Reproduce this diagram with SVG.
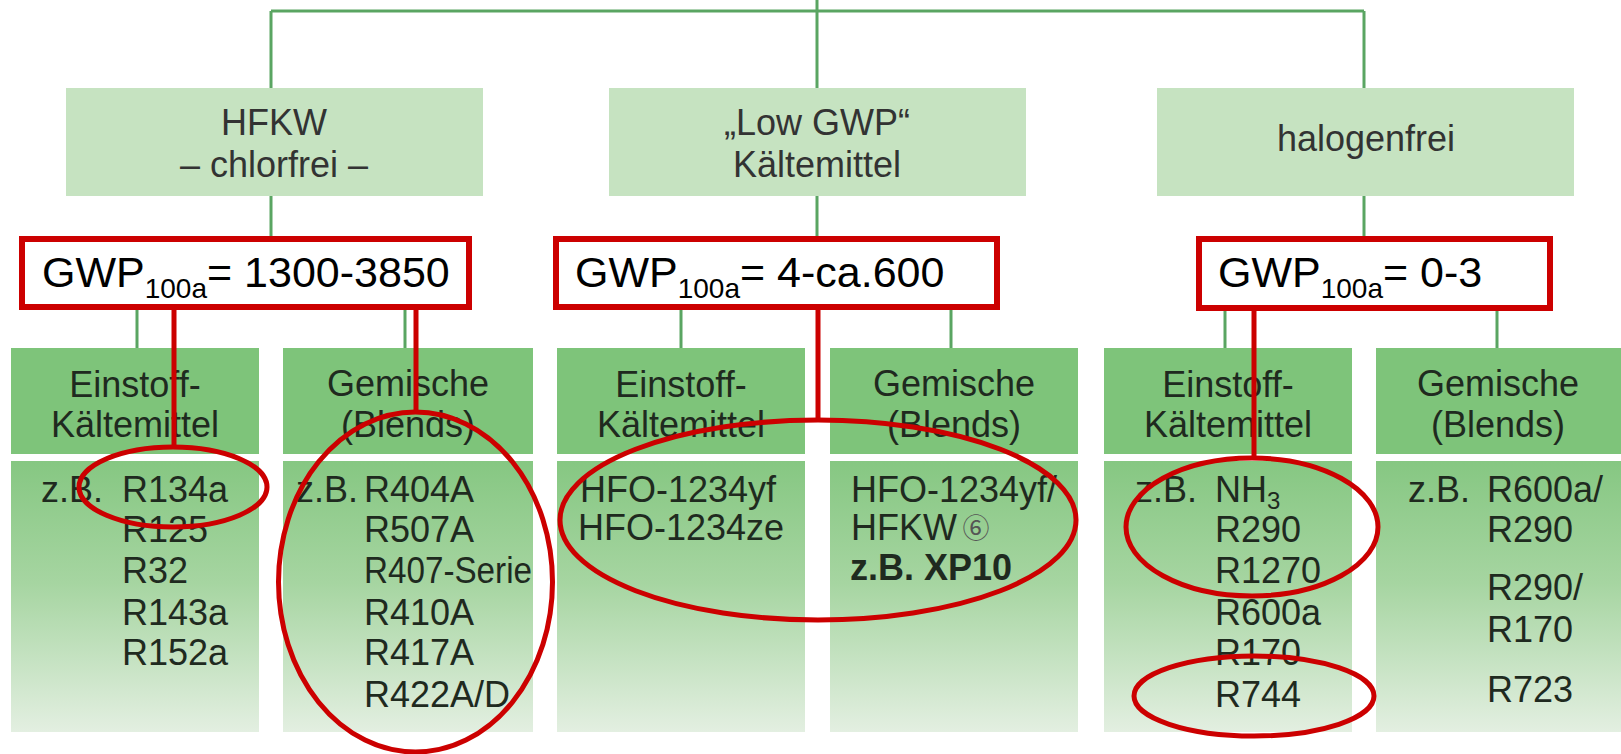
<svg xmlns="http://www.w3.org/2000/svg" width="1621" height="754" viewBox="0 0 1621 754">
<defs>
<linearGradient id="bodyGrad" x1="0" y1="0" x2="0" y2="1">
<stop offset="0" stop-color="#86c782"/>
<stop offset="0.45" stop-color="#a6d5a1"/>
<stop offset="1" stop-color="#e3efe1"/>
</linearGradient>
<style>
text{font-family:"Liberation Sans",Arial,sans-serif;}
.l1{fill:#c6e3c1;}
.hdr{fill:#7ec47a;}
.body{fill:url(#bodyGrad);}
.t1{font-size:36px;fill:#333;text-anchor:middle;}
.th{font-size:36px;fill:#1f2a1f;text-anchor:middle;}
.tb{font-size:36px;fill:#1f2a1f;}
.gwp{font-size:43px;fill:#000;}
.gbox{fill:#fff;stroke:#cc0000;stroke-width:6;}
.green{stroke:#5aa562;stroke-width:3;fill:none;}
.red{stroke:#cc0000;stroke-width:5;fill:none;}
</style>
</defs>
<rect width="1621" height="754" fill="#fff"/>
<g id="connectors">
<path class="green" d="M817 0V88M271 11H1364M271 11V88M1364 11V88M271 196V238M817 196V238M1364 196V238M137 310V348M405 310V348M681 310V348M951 310V348M1225 310V348M1497 310V348"/>
</g>
<g id="hfkw">
<rect class="l1" x="66" y="88" width="417" height="108"/>
<text class="t1" x="274" y="135">HFKW</text>
<text class="t1" x="274" y="177">– chlorfrei –</text>
</g>
<g id="lowgwp">
<rect class="l1" x="609" y="88" width="417" height="108"/>
<text class="t1" x="817" y="135">„Low GWP“</text>
<text class="t1" x="817" y="177">Kältemittel</text>
</g>
<g id="halogenfrei">
<rect class="l1" x="1157" y="88" width="417" height="108"/>
<text class="t1" x="1366" y="151">halogenfrei</text>
</g>
<g id="gwp1">
<rect class="gbox" x="22" y="239" width="447" height="68"/>
<text class="gwp" x="42" y="287">GWP<tspan font-size="28" dy="11">100a</tspan><tspan dy="-11">= 1300-3850</tspan></text>
</g>
<g id="gwp2">
<rect class="gbox" x="556" y="239" width="441" height="68"/>
<text class="gwp" x="575" y="287">GWP<tspan font-size="28" dy="11">100a</tspan><tspan dy="-11">= 4-ca.600</tspan></text>
</g>
<g id="gwp3">
<rect class="gbox" x="1199" y="239" width="351" height="69"/>
<text class="gwp" x="1218" y="287">GWP<tspan font-size="28" dy="11">100a</tspan><tspan dy="-11">= 0-3</tspan></text>
</g>
<g id="hfkw-einstoff">
<rect class="hdr" x="11" y="348" width="248" height="106"/>
<rect class="body" x="11" y="461" width="248" height="271"/>
<text class="th" x="135" y="397">Einstoff-</text>
<text class="th" x="135" y="437">Kältemittel</text>
<text class="tb" x="41" y="502">z.B.</text>
<text class="tb" x="122" y="502">R134a</text>
<text class="tb" x="122" y="542">R125</text>
<text class="tb" x="122" y="583">R32</text>
<text class="tb" x="122" y="625">R143a</text>
<text class="tb" x="122" y="665">R152a</text>
</g>
<g id="hfkw-gemische">
<rect class="hdr" x="283" y="348" width="250" height="106"/>
<rect class="body" x="283" y="461" width="250" height="271"/>
<text class="th" x="408" y="396">Gemische</text>
<text class="th" x="408" y="437">(Blends)</text>
<text class="tb" x="296" y="502">z.B.</text>
<text class="tb" x="364" y="502">R404A</text>
<text class="tb" x="364" y="542">R507A</text>
<text class="tb" x="364" y="583" textLength="168" lengthAdjust="spacingAndGlyphs">R407-Serie</text>
<text class="tb" x="364" y="625">R410A</text>
<text class="tb" x="364" y="665">R417A</text>
<text class="tb" x="364" y="707">R422A/D</text>
</g>
<g id="lowgwp-einstoff">
<rect class="hdr" x="557" y="348" width="248" height="106"/>
<rect class="body" x="557" y="461" width="248" height="271"/>
<text class="th" x="681" y="397">Einstoff-</text>
<text class="th" x="681" y="437">Kältemittel</text>
<text class="tb" x="580" y="502">HFO-1234yf</text>
<text class="tb" x="578" y="540">HFO-1234ze</text>
</g>
<g id="lowgwp-gemische">
<rect class="hdr" x="830" y="348" width="248" height="106"/>
<rect class="body" x="830" y="461" width="248" height="271"/>
<text class="th" x="954" y="396">Gemische</text>
<text class="th" x="954" y="437">(Blends)</text>
<text class="tb" x="851" y="502">HFO-1234yf/</text>
<text class="tb" x="851" y="540">HFKW</text>
<text x="976" y="538" font-size="27" fill="#555" text-anchor="middle" style="font-family:'Noto Sans CJK JP','DejaVu Sans',sans-serif">⑥</text>
<text class="tb" x="850" y="580" font-weight="bold" fill="#3d3d3d">z.B. XP10</text>
</g>
<g id="halogenfrei-einstoff">
<rect class="hdr" x="1104" y="348" width="248" height="106"/>
<rect class="body" x="1104" y="461" width="248" height="271"/>
<text class="th" x="1228" y="397">Einstoff-</text>
<text class="th" x="1228" y="437">Kältemittel</text>
<text class="tb" x="1135" y="502">z.B.</text>
<text class="tb" x="1215" y="502">NH<tspan font-size="24" dy="7">3</tspan></text>
<text class="tb" x="1215" y="542">R290</text>
<text class="tb" x="1215" y="583">R1270</text>
<text class="tb" x="1215" y="625">R600a</text>
<text class="tb" x="1215" y="665">R170</text>
<text class="tb" x="1215" y="707">R744</text>
</g>
<g id="halogenfrei-gemische">
<rect class="hdr" x="1376" y="348" width="248" height="106"/>
<rect class="body" x="1376" y="461" width="248" height="271"/>
<text class="th" x="1498" y="396">Gemische</text>
<text class="th" x="1498" y="437">(Blends)</text>
<text class="tb" x="1408" y="502">z.B.</text>
<text class="tb" x="1487" y="502">R600a/</text>
<text class="tb" x="1487" y="542">R290</text>
<text class="tb" x="1487" y="600">R290/</text>
<text class="tb" x="1487" y="642">R170</text>
<text class="tb" x="1487" y="702">R723</text>
</g>
<g id="annotations">
<path class="red" d="M174 310V447M416 310V412M818 310V420M1254 310V458"/>
<ellipse class="red" cx="173" cy="487" rx="94" ry="40"/>
<ellipse class="red" cx="415.5" cy="582" rx="137" ry="170"/>
<ellipse class="red" cx="818" cy="520" rx="258" ry="100"/>
<ellipse class="red" cx="1252" cy="527" rx="126" ry="69"/>
<ellipse class="red" cx="1254" cy="696" rx="120" ry="40"/>
</g>
</svg>
